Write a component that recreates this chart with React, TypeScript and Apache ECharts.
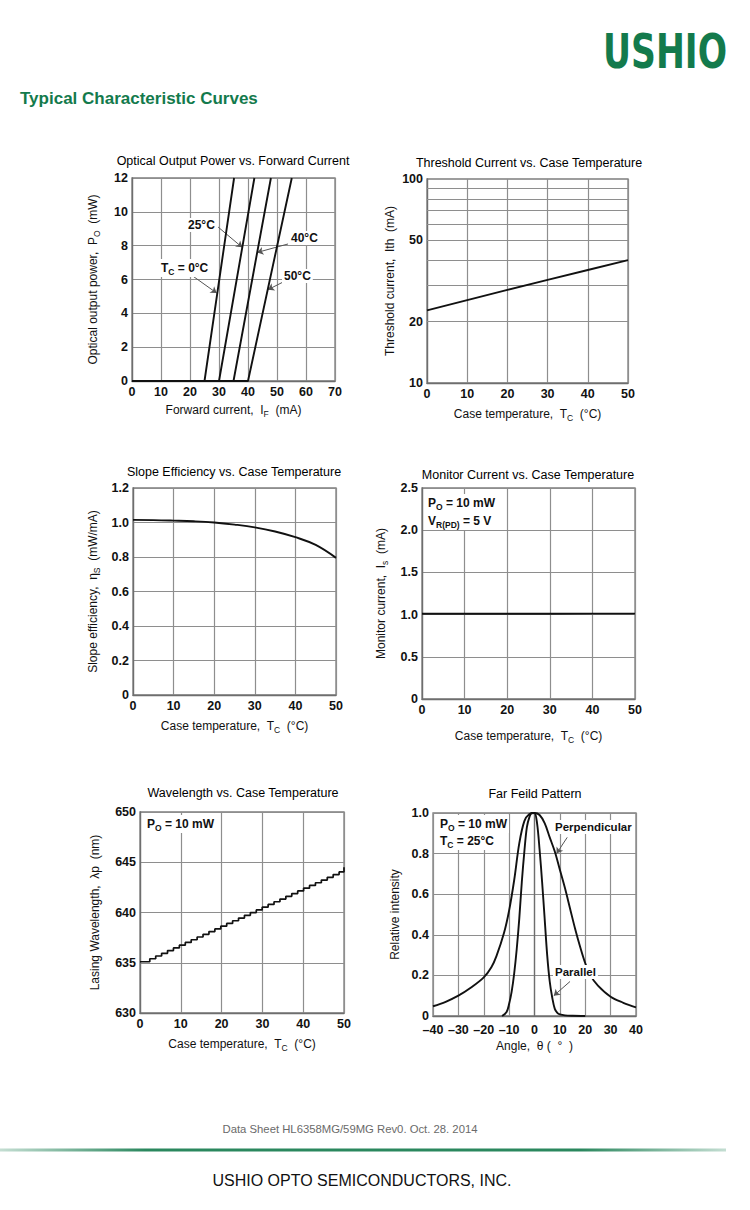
import React, { useEffect, useRef } from "react";
import * as echarts from "echarts";

const FONT = '"Liberation Sans", Arial, Helvetica, sans-serif';
const GREEN = "#137a4c";
const INK = "#111";

// ---------- Chart 1: Optical output power vs forward current ----------
const powerTc0 = [[0, 0], [25, 0], [35.2, 12]];
const powerTc25 = [[0, 0], [30, 0], [42.2, 12]];
const powerTc40 = [[0, 0], [35, 0], [47.9, 12]];
const powerTc50 = [[0, 0], [40, 0], [55.1, 12]];
const powerArrows = [
  [[29.7, 9.1], [38.0, 7.9]],
  [[53.8, 8.1], [43.2, 7.6]],
  [[21.0, 6.2], [29.2, 5.2]],
  [[52.1, 5.85], [46.9, 5.4]],
];

// ---------- Chart 2: Threshold current vs case temperature ----------
const thresholdTemp = [0, 10, 20, 30, 40, 50];
const thresholdCurrent = [22.7, 25.5, 28.6, 32.0, 35.8, 40.0];
const thresholdGridValues = [20, 30, 40, 50, 60, 70, 80, 90];
const thresholdExtraLabels = [20, 50];

// ---------- Chart 3: Slope efficiency vs case temperature ----------
const slopeTemp = [0, 5, 10, 15, 20, 25, 30, 35, 40, 45, 50];
const slopeEfficiency = [1.015, 1.014, 1.011, 1.007, 1.0, 0.988, 0.972, 0.948, 0.915, 0.87, 0.795];

// ---------- Chart 4: Monitor current vs case temperature ----------
const monitorTemp = [0, 10, 20, 30, 40, 50];
const monitorCurrent = [1.01, 1.01, 1.01, 1.01, 1.012, 1.012];

// ---------- Chart 5: Wavelength vs case temperature (mode-hop staircase) ----------
const waveTemp = [0, 2.4, 3.85, 5.3, 6.75, 8.2, 9.65, 11.1, 12.55, 14.0, 15.45, 16.9, 18.35, 19.8, 21.25, 22.7, 24.15, 25.6, 27.05, 28.5, 29.95, 31.4, 32.85, 34.3, 35.75, 37.2, 38.65, 40.1, 41.55, 43.0, 44.45, 45.9, 47.35, 48.8, 50];
const waveLength = [635.1, 635.4, 635.67, 635.94, 636.21, 636.48, 636.75, 637.02, 637.29, 637.56, 637.83, 638.1, 638.37, 638.64, 638.91, 639.18, 639.45, 639.72, 639.99, 640.26, 640.53, 640.8, 641.07, 641.34, 641.61, 641.88, 642.15, 642.42, 642.69, 642.96, 643.23, 643.5, 643.77, 644.04, 644.5];

// ---------- Chart 6: Far field pattern ----------
const perpAngle = [-40, -35, -30, -25, -20, -17, -15, -12, -10, -8, -6, -4, -2, 0, 2, 4, 6, 8, 10, 12, 14, 16, 18, 20, 22, 25, 30, 35, 40];
const perpIntensity = [0.048, 0.07, 0.1, 0.14, 0.19, 0.24, 0.295, 0.41, 0.52, 0.67, 0.85, 0.96, 0.995, 1.0, 0.99, 0.95, 0.88, 0.81, 0.72, 0.63, 0.53, 0.43, 0.34, 0.26, 0.2, 0.15, 0.095, 0.065, 0.042];
const parAngle = [-12.8, -11, -10, -9, -8, -7, -6, -5, -4, -3, -2, -1, 0, 1, 2, 3, 4, 5, 6, 7, 8, 9, 10, 12, 15, 20];
const parIntensity = [0, 0.02, 0.06, 0.12, 0.21, 0.33, 0.48, 0.66, 0.81, 0.93, 0.98, 1.0, 1.0, 0.95, 0.82, 0.66, 0.48, 0.3, 0.17, 0.09, 0.035, 0.015, 0.008, 0.003, 0.001, 0];
const ffpArrows = [
  [[12.9, 0.88], [8.7, 0.8]],
  [[14.0, 0.17], [7.6, 0.1]],
];

const zip = (xs: number[], ys: number[]) => xs.map((x, i) => [x, ys[i]]);

const SUB = { fontSize: 8.5, padding: [7, 0, 0, 0], fontFamily: FONT, color: INK };

const grids = [
  { left: 132, top: 178, width: 203, height: 203 },
  { left: 427, top: 179, width: 201, height: 204 },
  { left: 133, top: 488, width: 203, height: 207 },
  { left: 422, top: 488, width: 213, height: 211 },
  { left: 140, top: 812, width: 204, height: 201 },
  { left: 433, top: 813, width: 203, height: 203 },
].map((g) => ({ ...g, show: true, borderColor: "#7e7e7e", borderWidth: 1.3, backgroundColor: "transparent" }));

const GRIDC = "#8e8e8e";
const splitLine = { show: true, lineStyle: { color: GRIDC, width: 1.2 } };
const axisLine = { show: true, lineStyle: { color: "#6e6e6e", width: 1.3 } };
const labelStyle = { color: INK, fontWeight: "bold" as const, fontSize: 12.5, fontFamily: FONT, margin: 4 };
const nameStyle = { color: INK, fontSize: 12, fontFamily: FONT, rich: { sub: SUB } };
const oneDec = (v: number) => (v === 0 ? "0" : v.toFixed(1));

const xAxis = (gi: number, min: number, max: number, interval: number, name: string, nameGap: number, fmt?: (v: number) => string, margin = 4) => ({
  type: "value",
  gridIndex: gi,
  min,
  max,
  interval,
  name,
  nameLocation: "middle",
  nameGap,
  nameTextStyle: nameStyle,
  axisLine,
  axisTick: { show: false },
  splitLine,
  axisLabel: { ...labelStyle, margin, formatter: fmt },
});

const yAxis = (gi: number, min: number, max: number, interval: number, name: string, nameGap: number, fmt?: (v: number) => string) => ({
  type: "value",
  gridIndex: gi,
  min,
  max,
  interval,
  name,
  nameLocation: "middle",
  nameGap,
  nameRotate: 90,
  nameTextStyle: nameStyle,
  axisLine,
  axisTick: { show: false },
  splitLine,
  axisLabel: { ...labelStyle, formatter: fmt },
});

const curve = (gi: number, data: number[][], extra: Record<string, unknown> = {}) => ({
  type: "line",
  xAxisIndex: gi,
  yAxisIndex: gi,
  data,
  symbol: "none",
  showSymbol: false,
  silent: true,
  lineStyle: { color: INK, width: 1.9 },
  z: 5,
  ...extra,
});

const arrowMarks = (pairs: number[][][]) => ({
  silent: true,
  symbol: ["none", "arrow"],
  symbolSize: 6,
  lineStyle: { color: "#555", width: 1, type: "solid" },
  itemStyle: { color: "#555" },
  label: { show: false },
  data: pairs.map(([a, b]) => [{ coord: a }, { coord: b }]),
});

const txt = (x: number, y: number, text: string, o: Record<string, unknown> = {}, el: Record<string, unknown> = {}) => ({
  type: "text",
  x,
  y,
  silent: true,
  z: 100,
  ...el,
  style: {
    text,
    fill: INK,
    fontFamily: FONT,
    fontSize: 12,
    fontWeight: "bold",
    align: "left",
    verticalAlign: "middle",
    rich: { s: { ...SUB, fontWeight: "bold", fontSize: 8.5 } },
    ...o,
  },
});

// annotation with white backing like the reference (grid lines hidden behind text)
const note = (x: number, y: number, text: string, o: Record<string, unknown> = {}) =>
  txt(x, y, text, { backgroundColor: "#fff", padding: [1, 2, 1, 2], ...o });

const title = (x: number, y: number, text: string) =>
  txt(x, y, text, { align: "center", fontWeight: "normal", fontSize: 12.5, fill: "#000" });

export default function App() {
  const ref = useRef<HTMLDivElement>(null);
  useEffect(() => {
    if (!ref.current) return;
    const chart = echarts.init(ref.current, undefined, { renderer: "svg" });
    const option = {
      animation: false,
      backgroundColor: "#fff",
      grid: grids,
      xAxis: [
        xAxis(0, 0, 70, 10, "Forward current,  I{sub|F}  (mA)", 21),
        xAxis(1, 0, 50, 10, "Case temperature,  T{sub|C}  (°C)", 23),
        xAxis(2, 0, 50, 10, "Case temperature,  T{sub|C}  (°C)", 23),
        xAxis(3, 0, 50, 10, "Case temperature,  T{sub|C}  (°C)", 29),
        xAxis(4, 0, 50, 10, "Case temperature,  T{sub|C}  (°C)", 23),
        xAxis(5, -40, 40, 10, "Angle,  θ (  °  )", 24, (v: number) => (v < 0 ? "–" + Math.abs(v) : String(v)), 7),
      ],
      yAxis: [
        yAxis(0, 0, 12, 2, "Optical output power,  P{sub|O}  (mW)", 31),
        {
          type: "log",
          logBase: 10,
          gridIndex: 1,
          min: 10,
          max: 100,
          name: "Threshold current,  Ith  (mA)",
          nameLocation: "middle",
          nameGap: 31,
          nameRotate: 90,
          nameTextStyle: nameStyle,
          axisLine,
          axisTick: { show: false },
          splitLine: { show: false },
          minorSplitLine: { show: false },
          axisLabel: { ...labelStyle, formatter: (v: number) => String(Math.round(v)) },
        },
        yAxis(2, 0, 1.2, 0.2, "Slope efficiency,  η{sub|S}  (mW/mA)", 32, oneDec),
        yAxis(3, 0, 2.5, 0.5, "Monitor current,  I{sub|s}  (mA)", 33, oneDec),
        yAxis(4, 630, 650, 5, "Lasing Wavelength,  λp  (nm)", 39),
        yAxis(5, 0, 1.0, 0.2, "Relative intensity", 32, oneDec),
      ],
      series: [
        curve(0, powerTc0, { markLine: arrowMarks(powerArrows) }),
        curve(0, powerTc25),
        curve(0, powerTc40),
        curve(0, powerTc50),
        curve(1, zip(thresholdTemp, thresholdCurrent), {
          markLine: {
            silent: true,
            symbol: "none",
            lineStyle: { color: GRIDC, width: 1.2, type: "solid" },
            label: { show: false },
            z: 1,
            data: thresholdGridValues.map((v) => ({
              yAxis: v,
              label: thresholdExtraLabels.includes(v)
                ? { show: true, position: "start", distance: 4, formatter: String(v), ...labelStyle }
                : { show: false },
            })),
          },
        }),
        curve(2, zip(slopeTemp, slopeEfficiency), { smooth: 0.4 }),
        curve(3, zip(monitorTemp, monitorCurrent)),
        curve(4, zip(waveTemp, waveLength), { step: "end", lineStyle: { color: INK, width: 1.7 } }),
        curve(5, zip(perpAngle, perpIntensity), { smooth: 0.35, markLine: arrowMarks(ffpArrows) }),
        curve(5, zip(parAngle, parIntensity), { smooth: 0.35 }),
      ],
      graphic: [
        // header
        txt(
          603,
          51,
          "USHIO",
          { fontFamily: '"DejaVu Sans", sans-serif', fontWeight: "bold", fontSize: 48, fill: GREEN },
          { scaleX: 0.72, scaleY: 1 }
        ),
        txt(20, 98, "Typical Characteristic Curves", { fill: GREEN, fontSize: 17, fontWeight: "bold" }),
        // chart titles
        title(233, 161, "Optical Output Power vs. Forward Current"),
        title(529, 163, "Threshold Current vs. Case Temperature"),
        title(234, 472, "Slope Efficiency vs. Case Temperature"),
        title(528, 475, "Monitor Current vs. Case Temperature"),
        title(243, 793, "Wavelength vs. Case Temperature"),
        title(535, 794, "Far Feild Pattern"),
        // chart 1 annotations
        note(186, 225, "25°C"),
        note(289, 238, "40°C"),
        note(159, 268, "T{s|C} = 0°C"),
        note(282, 276, "50°C"),
        // chart 4 annotations
        note(426, 503, "P{s|O} = 10 mW"),
        note(426, 521, "V{s|R(PD)} = 5 V"),
        // chart 5 annotation
        note(145, 824, "P{s|O} = 10 mW"),
        // chart 6 annotations
        note(438, 824, "P{s|O} = 10 mW"),
        note(438, 841, "T{s|C} = 25°C"),
        note(553, 827, "Perpendicular", { fontSize: 11.5 }),
        note(553, 972, "Parallel", { fontSize: 11.5 }),
        // footer
        txt(350, 1129, "Data Sheet HL6358MG/59MG Rev0. Oct. 28. 2014", {
          align: "center",
          fontWeight: "normal",
          fontSize: 11.3,
          fill: "#6a6a6a",
        }),
        {
          type: "rect",
          silent: true,
          shape: { x: 0, y: 1148.5, width: 726, height: 3 },
          style: {
            fill: new echarts.graphic.LinearGradient(0, 0, 1, 0, [
              { offset: 0, color: "rgba(19,122,76,0.25)" },
              { offset: 0.2, color: "rgba(19,122,76,0.9)" },
              { offset: 0.8, color: "rgba(19,122,76,0.9)" },
              { offset: 1, color: "rgba(19,122,76,0.25)" },
            ]),
          },
        },
        txt(362, 1180, "USHIO OPTO SEMICONDUCTORS, INC.", {
          align: "center",
          fontWeight: "normal",
          fontSize: 16,
          fill: "#111",
        }),
      ],
    };
    chart.setOption(option as any);
    return () => chart.dispose();
  }, []);
  return <div ref={ref} style={{ position: "absolute", left: 0, top: 0, width: 750, height: 1210 }} />;
}
